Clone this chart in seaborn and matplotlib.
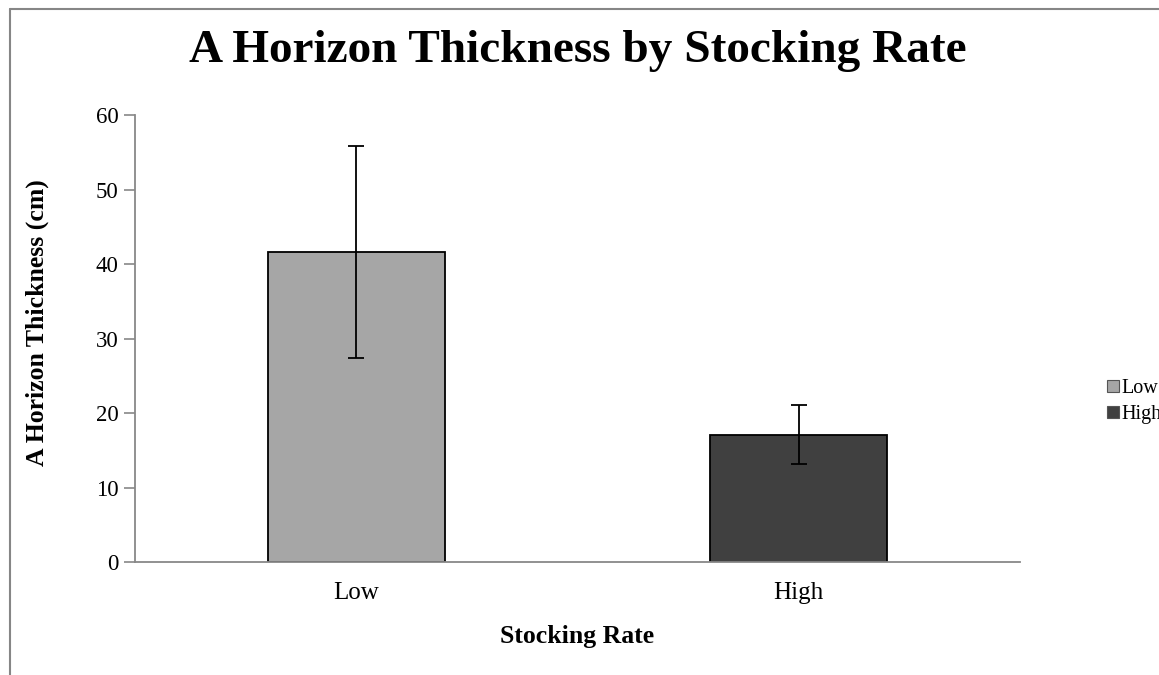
import pandas as pd
import matplotlib
matplotlib.use("Agg")
import matplotlib.pyplot as plt
from matplotlib.lines import Line2D
import seaborn as sns

# datos
categorias = ["Low", "High"]
espesor = [41.6, 17.1]
error = [14.2, 4.0]
colores = ["#A6A6A6", "#404040"]

sns.set_style("white")
plt.rcParams["font.family"] = ["Liberation Serif", "DejaVu Serif"]
plt.rcParams["text.color"] = "black"
plt.rcParams["axes.labelcolor"] = "black"

df = pd.DataFrame({"Stocking Rate": categorias, "Espesor": espesor})

fig = plt.figure(figsize=(11.59, 6.75), dpi=100)
ax = fig.add_axes([0.1165, 0.1674, 0.7635, 0.6622])

sns.barplot(data=df, x="Stocking Rate", y="Espesor", hue="Stocking Rate",
            palette=colores, width=0.4, edgecolor="black", linewidth=1.3,
            errorbar=None, legend=True, ax=ax)
ax.errorbar(x=range(len(categorias)), y=espesor, yerr=error, fmt="none",
            ecolor="black", elinewidth=1.3, capsize=6, capthick=1.3)

ax.set_ylim(0, 60)
ax.set_yticks(range(0, 61, 10))
ax.set_xlim(-0.5, 1.5)
for s in ["top", "right"]:
    ax.spines[s].set_visible(False)
for s in ["left", "bottom"]:
    ax.spines[s].set_color("#888888")
    ax.spines[s].set_linewidth(1.3)
ax.tick_params(axis="y", which="major", left=True, length=8, width=1.2,
               color="#888888", labelcolor="black", labelsize=16.5, pad=4)
ax.tick_params(axis="x", bottom=False, labelcolor="black", labelsize=18, pad=11)

ax.set_title("A Horizon Thickness by Stocking Rate", fontsize=34,
             fontweight="bold", pad=38)
ax.set_ylabel("A Horizon Thickness (cm)", fontsize=18.5, fontweight="bold", labelpad=30)
ax.yaxis.set_label_coords(-0.097, 0.535)
ax.set_xlabel("Stocking Rate", fontsize=18.5, fontweight="bold", labelpad=15)

leg = ax.legend(loc="center left", bbox_to_anchor=(0.955, 0.405),
                bbox_transform=fig.transFigure, frameon=False, fontsize=14.5,
                handlelength=0.6, handleheight=0.6, handletextpad=0.1,
                labelspacing=0.35, borderaxespad=0, borderpad=0)
for h in leg.legend_handles:
    h.set_edgecolor("#555555")
    h.set_linewidth(0.8)

# marco gris del area del grafico
fig.add_artist(Line2D([9.5 / 1159, 1], [1 - 8.5 / 675, 1 - 8.5 / 675],
                      transform=fig.transFigure, color="#868686", lw=1.5))
fig.add_artist(Line2D([9.5 / 1159, 9.5 / 1159], [0, 1 - 8.5 / 675],
                      transform=fig.transFigure, color="#868686", lw=1.5))

fig.savefig("out.png", dpi=100)
